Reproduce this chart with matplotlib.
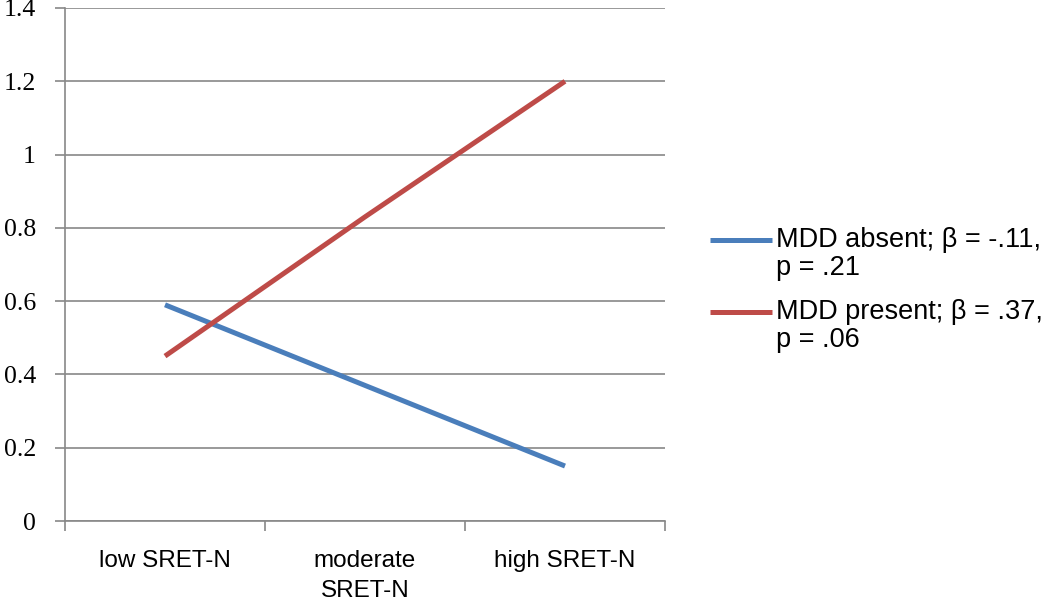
import numpy as np
import matplotlib.pyplot as plt
from matplotlib.lines import Line2D

# data
categories = ["low SRET-N", "moderate\nSRET-N", "high SRET-N"]
mdd_absent = [0.59, 0.37, 0.15]
mdd_present = [0.45, 0.83, 1.20]
labels = ["MDD absent; \u03b2 = -.11,\np = .21", "MDD present; \u03b2 = .37,\np = .06"]
yticks = [0, 0.2, 0.4, 0.6, 0.8, 1, 1.2, 1.4]
ytick_labels = ["0", "0.2", "0.4", "0.6", "0.8", "1", "1.2", "1.4"]

grey = "#888888"
colors = ["#4a7ebb", "#be4b48"]
W, H = 1050, 609

fig = plt.figure(figsize=(W / 100, H / 100), dpi=100)
ax = fig.add_axes([65/W, 1 - 521/H, 600/W, 513/H])

x = np.arange(len(categories))
for vals, c in zip([mdd_absent, mdd_present], colors):
    ax.plot(x, vals, color=c, lw=3.6, solid_capstyle="butt")

ax.set_xlim(-0.5, len(categories) - 0.5)
ax.set_ylim(0, 1.4)

# y axis
ax.set_yticks(yticks)
ax.set_yticklabels(ytick_labels, family="Liberation Serif", fontsize=18.5)
ax.tick_params(axis="y", direction="out", length=7, width=1.2, color=grey, pad=14)
ax.yaxis.grid(True, color=grey, lw=1.2)
ax.set_axisbelow(True)

# x axis: ticks at category boundaries, labels in between
ax.set_xticks(np.arange(-0.5, len(categories), 1.0))
ax.set_xticklabels([])
ax.set_xticks(x, minor=True)
ax.set_xticklabels(categories, minor=True, family="Liberation Sans", fontsize=17.5,
                   linespacing=1.45)
ax.tick_params(axis="x", which="major", direction="out", length=7, width=1.2, color=grey)
ax.tick_params(axis="x", which="minor", length=0, pad=21)

for s in ["top", "right"]:
    ax.spines[s].set_visible(False)
for s in ["left", "bottom"]:
    ax.spines[s].set_color(grey)
    ax.spines[s].set_linewidth(1.2)

# legend drawn by hand so the handle sits on the first text line
entry_y = [240, 312]
for lab, c, y in zip(labels, colors, entry_y):
    fig.add_artist(Line2D([710/W, 772/W], [1 - y/H, 1 - y/H], color=c, lw=3.6,
                          solid_capstyle="butt"))
    for i, line in enumerate(lab.split("\n")):
        fig.text(776/W, 1 - (y + 28 * i)/H, line, va="center", ha="left",
                 family="Liberation Sans", fontsize=19.5)

fig.savefig("out.png", dpi=100, facecolor="white")
